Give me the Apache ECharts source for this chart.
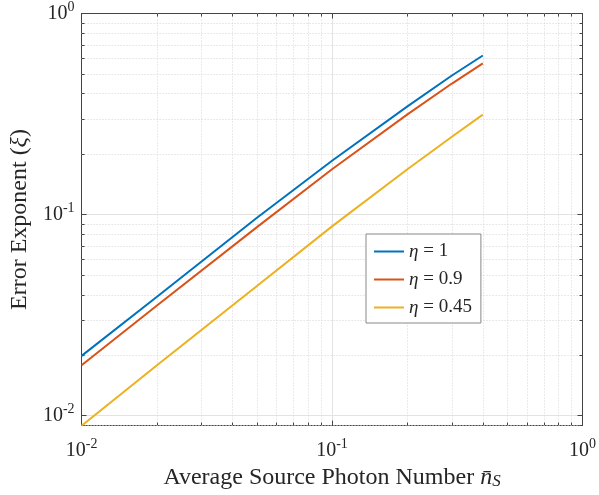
<!DOCTYPE html>
<html>
<head>
<meta charset="utf-8">
<style>
  html, body { margin: 0; padding: 0; background: #fff; }
  #main { width: 599px; height: 495px; }
</style>
</head>
<body>
<div id="main"></div>
<script src="https://cdn.jsdelivr.net/npm/echarts@6/dist/echarts.min.js"></script>
<script>
// values
var photonNumber = [0.01, 0.02, 0.05, 0.1, 0.2, 0.3, 0.4];
var eta1    = [0.0198, 0.039, 0.096, 0.185, 0.345, 0.49, 0.618];
var eta09   = [0.0178, 0.0353, 0.0863, 0.168, 0.315, 0.447, 0.565];
var eta045  = [0.0089, 0.0178, 0.044, 0.0873, 0.168, 0.243, 0.314];
var seriesNames = ['η = 1', 'η = 0.9', 'η = 0.45'];
var colors = ['#0072BD', '#D95319', '#EDB120'];

var xMin = 0.01, xMax = 1;
var yMin = 0.00891, yMax = 1;
var xMinor = [0.02, 0.03, 0.04, 0.05, 0.06, 0.07, 0.08, 0.09, 0.2, 0.3, 0.4, 0.5, 0.6, 0.7, 0.8, 0.9];
var yMinor = [0.009, 0.02, 0.03, 0.04, 0.05, 0.06, 0.07, 0.08, 0.09, 0.2, 0.3, 0.4, 0.5, 0.6, 0.7, 0.8, 0.9];

var serif = '"Liberation Serif", "DejaVu Serif", serif';
var ink = '#262626';

function pair(xs, ys) {
  return xs.map(function (x, i) { return [x, ys[i]]; });
}

function powLabel(v) {
  var e = Math.log10(v);
  if (Math.abs(e - Math.round(e)) > 1e-6) return '';
  return '{b|10}{s|' + Math.round(e) + '}';
}

var powRich = {
  b: { fontFamily: serif, fontSize: 20, color: ink },
  s: { fontFamily: serif, fontSize: 14, color: ink, padding: [0, 0, 13, 0] }
};

// minor grid + minor ticks (MATLAB look)
function minorRender(isX) {
  return function (params, api) {
    var cs = params.coordSys;
    var dash = { stroke: '#d4d4d4', lineWidth: 1, lineDash: [1, 2] };
    var tick = { stroke: '#444', lineWidth: 1 };
    var ch = [];
    if (isX) {
      var x = Math.round(api.coord([api.value(0), 0.1])[0]) + 0.5;
      ch.push({ type: 'line', shape: { x1: x, y1: cs.y, x2: x, y2: cs.y + cs.height }, style: dash });
      ch.push({ type: 'line', shape: { x1: x, y1: cs.y + cs.height, x2: x, y2: cs.y + cs.height - 3 }, style: tick });
      ch.push({ type: 'line', shape: { x1: x, y1: cs.y, x2: x, y2: cs.y + 3 }, style: tick });
    } else {
      var y = Math.round(api.coord([0.1, api.value(1)])[1]) + 0.5;
      ch.push({ type: 'line', shape: { x1: cs.x, y1: y, x2: cs.x + cs.width, y2: y }, style: dash });
      ch.push({ type: 'line', shape: { x1: cs.x, y1: y, x2: cs.x + 3, y2: y }, style: tick });
      ch.push({ type: 'line', shape: { x1: cs.x + cs.width, y1: y, x2: cs.x + cs.width - 3, y2: y }, style: tick });
    }
    return { type: 'group', children: ch };
  };
}

var myChart = echarts.init(document.getElementById('main'));

var axisLine = { show: true, lineStyle: { color: '#444', width: 1 } };

var option = {
  backgroundColor: '#fff',
  animation: false,
  grid: { left: 77, right: 16, top: 10, bottom: 66 },
  legend: {
    data: seriesNames,
    orient: 'vertical',
    left: 366,
    top: 234,
    icon: 'rect',
    itemWidth: 30,
    itemHeight: 2,
    itemGap: 9,
    padding: [8, 9, 6, 8],
    backgroundColor: '#fff',
    borderColor: '#888',
    borderWidth: 1,
    formatter: function (name) {
      return '{i|η}{t|' + name.slice(1) + '}';
    },
    textStyle: {
      rich: {
        i: { fontFamily: serif, fontStyle: 'italic', fontSize: 19, color: ink, height: 19 },
        t: { fontFamily: serif, fontSize: 19, color: ink, height: 19 }
      }
    }
  },
  xAxis: [
    {
      type: 'log', logBase: 10, min: xMin, max: xMax,
      position: 'bottom',
      axisLine: axisLine,
      axisTick: { show: true, inside: true, length: 5, lineStyle: { color: '#444' } },
      axisLabel: { formatter: powLabel, rich: powRich, margin: 12 },
      splitLine: { show: true, lineStyle: { color: '#e3e3e3', width: 1 } },
      name: '{t|Average Source Photon Number }{i|n̄}{sub|S}',
      nameLocation: 'middle',
      nameGap: 37,
      nameTextStyle: {
        rich: {
          t: { fontFamily: serif, fontSize: 24, color: ink },
          i: { fontFamily: serif, fontStyle: 'italic', fontSize: 24, color: ink },
          sub: { fontFamily: serif, fontStyle: 'italic', fontSize: 17, color: ink, padding: [7, 0, 0, 0] }
        }
      }
    },
    {
      type: 'log', logBase: 10, min: xMin, max: xMax,
      position: 'top',
      axisLine: axisLine,
      axisTick: { show: true, inside: true, length: 5, lineStyle: { color: '#444' } },
      axisLabel: { show: false },
      splitLine: { show: false }
    }
  ],
  yAxis: [
    {
      type: 'log', logBase: 10, min: yMin, max: yMax,
      position: 'left',
      axisLine: axisLine,
      axisTick: { show: true, inside: true, length: 5, lineStyle: { color: '#444' } },
      axisLabel: { formatter: powLabel, rich: powRich, margin: 7 },
      splitLine: { show: true, lineStyle: { color: '#e3e3e3', width: 1 } },
      name: '{t|Error Exponent (}{i|ξ}{t|)}',
      nameLocation: 'middle',
      nameGap: 47,
      nameRotate: 90,
      nameTextStyle: {
        rich: {
          t: { fontFamily: serif, fontSize: 24, color: ink },
          i: { fontFamily: serif, fontStyle: 'italic', fontSize: 24, color: ink }
        }
      }
    },
    {
      type: 'log', logBase: 10, min: yMin, max: yMax,
      position: 'right',
      axisLine: axisLine,
      axisTick: { show: true, inside: true, length: 5, lineStyle: { color: '#444' } },
      axisLabel: { show: false },
      splitLine: { show: false }
    }
  ],
  series: [
    {
      type: 'custom', silent: true, z: 1,
      data: xMinor.map(function (v) { return [v, 0.1]; }),
      renderItem: minorRender(true)
    },
    {
      type: 'custom', silent: true, z: 1,
      data: yMinor.map(function (v) { return [0.1, v]; }),
      renderItem: minorRender(false)
    },
    {
      name: seriesNames[0], type: 'line', data: pair(photonNumber, eta1),
      symbol: 'none', z: 5,
      lineStyle: { color: colors[0], width: 2 }, itemStyle: { color: colors[0] }
    },
    {
      name: seriesNames[1], type: 'line', data: pair(photonNumber, eta09),
      symbol: 'none', z: 5,
      lineStyle: { color: colors[1], width: 2 }, itemStyle: { color: colors[1] }
    },
    {
      name: seriesNames[2], type: 'line', data: pair(photonNumber, eta045),
      symbol: 'none', z: 5,
      lineStyle: { color: colors[2], width: 2 }, itemStyle: { color: colors[2] }
    }
  ]
};

myChart.setOption(option);
</script>
</body>
</html>
